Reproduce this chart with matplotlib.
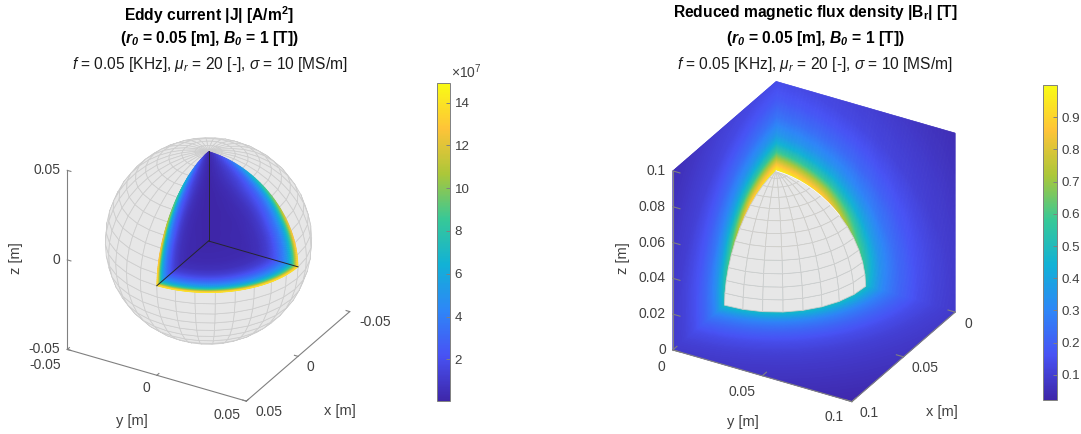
import numpy as np
import matplotlib
matplotlib.use('Agg')
import matplotlib.pyplot as plt
from matplotlib.cm import ScalarMappable
from matplotlib.colors import LinearSegmentedColormap, Normalize
from mpl_toolkits.mplot3d import proj3d
from mpl_toolkits.mplot3d.art3d import Poly3DCollection

W, H = 1081, 434
R0 = 0.05

plt.rcParams['font.family'] = ['Liberation Sans', 'DejaVu Sans']
plt.rcParams['mathtext.fontset'] = 'custom'
plt.rcParams['mathtext.rm'] = 'Liberation Sans'
plt.rcParams['mathtext.it'] = 'Liberation Sans:italic'
plt.rcParams['mathtext.bf'] = 'Liberation Sans:bold'
plt.rcParams['mathtext.bfit'] = 'Liberation Sans:italic:bold'

j_angles = [0, 30, 60, 90]
j_radii = [0, 0.4, 0.55, 0.65, 0.72, 0.78, 0.84, 0.88, 0.92, 0.95, 0.98, 1.0]
j_table = [
    [0.05, 0.05, 0.05, 0.06, 0.07, 0.08, 0.10, 0.12, 0.14, 0.16, 0.18, 0.20],
    [0.05, 0.14, 0.30, 0.60, 1.0, 1.5, 2.1, 2.7, 3.6, 4.7, 6.2, 7.5],
    [0.05, 0.22, 0.50, 1.0, 1.7, 2.6, 3.6, 4.7, 6.2, 8.1, 10.7, 12.9],
    [0.05, 0.25, 0.58, 1.2, 2.0, 3.0, 4.2, 5.4, 7.2, 9.3, 12.3, 14.9],
]
j_clim = [0.05, 14.92]
j_ticks = [2, 4, 6, 8, 10, 12, 14]

b_angles = [0, 30, 60, 90]
b_radii = [1.0, 1.05, 1.1, 1.15, 1.2, 1.3, 1.4, 1.6, 1.8, 2.0, 2.5, 2.83]
b_table = [
    [0.98, 0.90, 0.80, 0.70, 0.60, 0.46, 0.36, 0.25, 0.18, 0.14, 0.09, 0.06],
    [0.92, 0.81, 0.72, 0.62, 0.53, 0.41, 0.33, 0.23, 0.17, 0.125, 0.08, 0.055],
    [0.65, 0.57, 0.50, 0.44, 0.38, 0.31, 0.25, 0.18, 0.135, 0.10, 0.06, 0.04],
    [0.49, 0.43, 0.38, 0.33, 0.29, 0.24, 0.20, 0.14, 0.105, 0.085, 0.05, 0.03],
]
b_clim = [0.022, 1.0]
b_ticks = [0.1, 0.2, 0.3, 0.4, 0.5, 0.6, 0.7, 0.8, 0.9]

left_ticks = [-0.05, 0, 0.05]
left_labels = ['-0.05', '0', '0.05']
right_zticks = [0, 0.02, 0.04, 0.06, 0.08, 0.1]
right_zlabels = ['0', '0.02', '0.04', '0.06', '0.08', '0.1']
right_ticks = [0, 0.05, 0.1]
right_labels = ['0', '0.05', '0.1']

parula_colors = [(0.2422, 0.1504, 0.6603), (0.2810, 0.3228, 0.9579),
                 (0.1786, 0.5289, 0.9682), (0.0689, 0.6948, 0.8394),
                 (0.2161, 0.7843, 0.5923), (0.6720, 0.7793, 0.2227),
                 (0.9970, 0.7659, 0.2199), (0.9769, 0.9839, 0.0805)]
parula = LinearSegmentedColormap.from_list('parula', parula_colors, N=256)

AXIS_GRAY = '#808080'
TEXT_GRAY = '#404040'
TICK_SIZE = 10
CBAR_SIZE = 9.6
LABEL_SIZE = 10.5
AZ = np.radians(30)
EL = np.radians(30)
VIEW = np.array([np.cos(EL) * np.cos(AZ), np.cos(EL) * np.sin(AZ), np.sin(EL)])


def lookup(r, ang, radii, angles, table):
    """Read a field from its radius/angle table"""
    angles = np.asarray(angles, dtype=float)
    per_angle = np.array([np.interp(r, radii, row) for row in table])
    i = np.clip(np.searchsorted(angles, ang) - 1, 0, len(angles) - 2)
    t = (ang - angles[i]) / (angles[i + 1] - angles[i])
    idx = np.indices(r.shape)
    return per_angle[(i, *idx)] * (1 - t) + per_angle[(i + 1, *idx)] * t


def make_axes(cx, cy, lims):
    size = 400
    left = cx - 0.5135 * size
    bottom = H - cy - 0.5135 * size
    ax = fig.add_axes([left / W, bottom / H, size / W, size / H], projection='3d',
                      computed_zorder=False, proj_type='ortho')
    ax.set_xlim(*lims)
    ax.set_ylim(*lims)
    ax.set_zlim(*lims)
    ax.view_init(elev=30, azim=30)
    ax.set_box_aspect((1, 1, 1), zoom=0.869)
    ax.set_axis_off()
    return ax


def sphere_mesh(keep):
    """Front-facing quads of the sphere for which keep(theta, phi) holds"""
    thetas = np.radians(np.arange(0, 180.1, 7.5))
    phis = np.radians(np.arange(0, 360.1, 11.25))
    quads = []
    for t0, t1 in zip(thetas[:-1], thetas[1:]):
        for p0, p1 in zip(phis[:-1], phis[1:]):
            tm, pm = (t0 + t1) / 2, (p0 + p1) / 2
            normal = np.array([np.sin(tm) * np.cos(pm), np.sin(tm) * np.sin(pm), np.cos(tm)])
            if normal @ VIEW < -0.05 or not keep(tm, pm):
                continue
            quad = [[R0 * np.sin(t) * np.cos(p), R0 * np.sin(t) * np.sin(p), R0 * np.cos(t)]
                    for t, p in ((t0, p0), (t0, p1), (t1, p1), (t1, p0))]
            quads.append(quad)
    return Poly3DCollection(quads, facecolor='#e7e7e7', edgecolor='#cdcdcd',
                            linewidth=0.55, zorder=2)


def draw_face(ax, X, Y, Z, values, norm):
    ax.plot_surface(X, Y, Z, facecolors=parula(norm(values)), shade=False,
                    rstride=1, cstride=1, linewidth=0.4, zorder=3)


def draw_axis(ax, start, end, ticks, inward, labels, offsets, ha='center'):
    start, end = np.array(start), np.array(end)
    ax.plot(*zip(start, end), color=AXIS_GRAY, lw=0.8, zorder=5)
    axis_dir = np.argmax(np.abs(end - start))
    for tick, label, off in zip(ticks, labels, offsets):
        p = start.copy()
        p[axis_dir] = tick
        ax.plot(*zip(p, p + np.array(inward)), color=AXIS_GRAY, lw=0.8, zorder=5)
        X, Y, _ = proj3d.proj_transform(p[0], p[1], p[2], ax.get_proj())
        ax.annotate(label, xy=(X, Y), xytext=off, textcoords='offset pixels', ha=ha,
                    va='center', fontsize=TICK_SIZE, color=TEXT_GRAY, annotation_clip=False)


def ptext(x, y, s, **kw):
    fig.text(x / W, 1 - y / H, s, **kw)


def titles(cx, y1, line1):
    ptext(cx, y1, line1, ha='center', va='baseline', fontsize=11.25, fontweight='bold',
          color='black')
    ptext(cx, 43, r'($\mathbfit{r_0}$ = 0.05 [m], $\mathbfit{B_0}$ = 1 [T])', ha='center',
          va='baseline', fontsize=11.25, fontweight='bold', color='black')
    ptext(cx, 69, r'$\mathit{f}$ = 0.05 [KHz], $\mu_r$ = 20 [-], $\sigma$ = 10 [MS/m]',
          ha='center', va='baseline', fontsize=11.2, color='#1a1a1a')


def colorbar(x0, x1, y0, y1, clim, ticks, fmt):
    cax = fig.add_axes([x0 / W, 1 - y1 / H, (x1 - x0) / W, (y1 - y0) / H])
    sm = ScalarMappable(norm=Normalize(*clim), cmap=parula)
    cb = fig.colorbar(sm, cax=cax, ticks=ticks, format=fmt)
    cb.ax.minorticks_off()
    cb.ax.tick_params(direction='in', length=3, width=0.7, color=AXIS_GRAY,
                      labelsize=CBAR_SIZE, labelcolor=TEXT_GRAY, pad=3.5)
    cb.outline.set_edgecolor(AXIS_GRAY)
    cb.outline.set_linewidth(0.7)


fig = plt.figure(figsize=(W / 100, H / 100), dpi=100)

# --- left: eddy current ---
ax1 = make_axes(208.5, 241, (-0.05, 0.05))
ax1.add_collection3d(sphere_mesh(lambda t, p: not (t < np.pi / 2 and p < np.pi / 2)))

j_norm = Normalize(*j_clim)
rr, aa = np.meshgrid(np.linspace(0, 1, 130), np.linspace(0, 90, 70))
jj = lookup(rr, aa, j_radii, j_angles, j_table)
a_rad = np.radians(aa)
draw_face(ax1, 0 * rr, R0 * rr * np.sin(a_rad), R0 * rr * np.cos(a_rad), jj, j_norm)
draw_face(ax1, R0 * rr * np.sin(a_rad), 0 * rr, R0 * rr * np.cos(a_rad), jj, j_norm)
jj_eq = lookup(rr, 90 + 0 * aa, j_radii, j_angles, j_table)
draw_face(ax1, R0 * rr * np.cos(a_rad), R0 * rr * np.sin(a_rad), 0 * rr, jj_eq, j_norm)
for end in ((R0, 0, 0), (0, R0, 0), (0, 0, R0)):
    ax1.plot(*zip((0, 0, 0), end), color='#26262e', lw=0.7, zorder=4)

tl = 0.002
draw_axis(ax1, (0.05, -0.05, -0.05), (0.05, -0.05, 0.05), left_ticks, (0, tl, 0), left_labels,
          [(-7, 0)] * 3, ha='right')
draw_axis(ax1, (0.05, -0.05, -0.05), (0.05, 0.05, -0.05), left_ticks, (-tl, 0, 0), left_labels,
          [(-22, -16), (-10, -13), (-19, -14)])
draw_axis(ax1, (0.05, 0.05, -0.05), (-0.05, 0.05, -0.05), left_ticks, (0, -tl, 0), left_labels,
          [(25, -10), (12, -11), (23, -11)])
ptext(16, 258, 'z [m]', rotation=90, ha='center', va='center', fontsize=LABEL_SIZE, color=TEXT_GRAY)
ptext(132, 421, 'y [m]', ha='center', va='center', fontsize=LABEL_SIZE, color=TEXT_GRAY)
ptext(340, 411, 'x [m]', ha='center', va='center', fontsize=LABEL_SIZE, color=TEXT_GRAY)

titles(209.5, 21, r'Eddy current |J| [A/m$^{\mathbf{2}}$]')
colorbar(437, 450, 83, 401, j_clim, j_ticks, '%d')
ptext(451, 78, r'$\times 10^{7}$', ha='left', va='baseline', fontsize=TICK_SIZE, color=TEXT_GRAY)

# --- right: reduced flux density ---
ax2 = make_axes(814, 241.5, (0, 0.1))
b_norm = Normalize(*b_clim)
aa2, bb2 = np.meshgrid(np.linspace(0, 0.1, 170), np.linspace(0, 0.1, 170))
rad = np.hypot(aa2, bb2) / R0
ang = np.degrees(np.arctan2(aa2, bb2))
bb_val = lookup(rad, ang, b_radii, b_angles, b_table)
draw_face(ax2, 0 * aa2, aa2, bb2, bb_val, b_norm)
draw_face(ax2, aa2, 0 * aa2, bb2, bb_val, b_norm)
bb_eq = lookup(rad, 90 + 0 * ang, b_radii, b_angles, b_table)
draw_face(ax2, aa2, bb2, 0 * aa2, bb_eq, b_norm)
octant = sphere_mesh(lambda t, p: t < np.pi / 2 and p < np.pi / 2)
octant.set_zorder(4)
ax2.add_collection3d(octant)

# bright rim along the upper edge of the octant
rim = np.radians(np.arange(0, 46, 5))
ax2.plot(0 * rim, R0 * np.sin(rim), R0 * np.cos(rim), color='white', lw=0.6, zorder=4.5)

draw_axis(ax2, (0.1, 0, 0), (0.1, 0, 0.1), right_zticks, (0, tl * 2, 0), right_zlabels,
          [(-7, 0)] * 6, ha='right')
draw_axis(ax2, (0.1, 0, 0), (0.1, 0.1, 0), right_ticks, (-tl * 2, 0, 0), right_labels,
          [(-11, -17), (-20, -16), (-18, -15)])
draw_axis(ax2, (0.1, 0.1, 0), (0, 0.1, 0), right_ticks, (0, -tl * 2, 0), right_labels,
          [(13, -12), (21, -11), (17, -11)])
ptext(623, 258, 'z [m]', rotation=90, ha='center', va='center', fontsize=LABEL_SIZE, color=TEXT_GRAY)
ptext(743, 422, 'y [m]', ha='center', va='center', fontsize=LABEL_SIZE, color=TEXT_GRAY)
ptext(942, 412, 'x [m]', ha='center', va='center', fontsize=LABEL_SIZE, color=TEXT_GRAY)

titles(815, 17, r'Reduced magnetic flux density |B$_{\mathbf{r}}$| [T]')
colorbar(1043, 1057, 85, 400, b_clim, b_ticks, '%.1f')

fig.savefig('out.png', dpi=100)
